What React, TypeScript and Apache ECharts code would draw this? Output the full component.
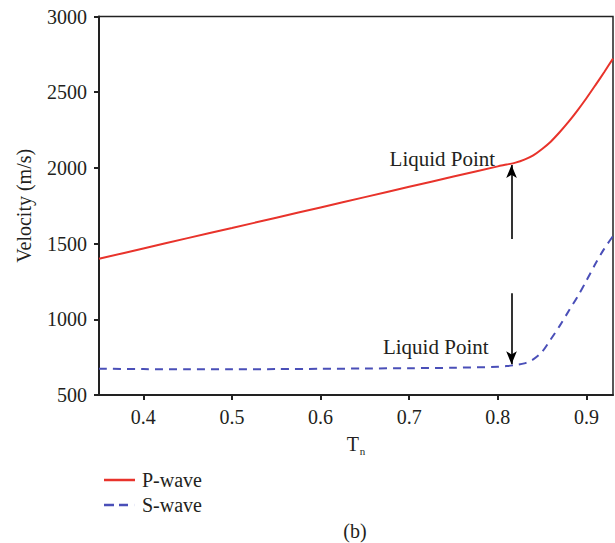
import React, { useEffect, useRef } from "react";
import * as echarts from "echarts";

const tn = [0.35, 0.4, 0.45, 0.5, 0.55, 0.6, 0.65, 0.7, 0.75, 0.8, 0.81, 0.82, 0.83, 0.84, 0.85, 0.86, 0.87, 0.88, 0.89, 0.9, 0.91, 0.92, 0.93];
const pWave = [1400, 1468, 1536, 1603, 1671, 1739, 1807, 1875, 1943, 2010, 2022, 2035, 2055, 2083, 2125, 2175, 2237, 2305, 2380, 2460, 2545, 2632, 2722];
const sWave = [674, 671, 670, 670, 671, 673, 675, 677, 680, 686, 691, 698, 709, 735, 785, 870, 958, 1055, 1150, 1255, 1365, 1465, 1550];
const xTicks = [0.4, 0.5, 0.6, 0.7, 0.8, 0.9];
const liquidX = 0.8155;
const upperArrow = [1530, 2019];
const lowerArrow = [1172, 703];
const upperLabel = [0.7375, 2059];
const lowerLabel = [0.73, 820];

const FONT = "Liberation Serif, serif";
const TXT = "#231f20";

export default function App() {
  const ref = useRef<HTMLDivElement>(null);
  useEffect(() => {
    const chart = echarts.init(ref.current!, null, { renderer: "svg" });
    chart.setOption({
      animation: false,
      textStyle: { fontFamily: FONT },
      grid: { left: 99, right: 2, top: 16.5, bottom: 148, show: true, borderColor: "#222", borderWidth: 1.5 },
      legend: {
        orient: "vertical",
        left: 99,
        top: 465,
        itemWidth: 31,
        itemHeight: 2.5,
        itemGap: 5,
        textStyle: { fontSize: 20, color: TXT, fontFamily: FONT, padding: [0, 0, 0, 2], lineHeight: 20 },
        data: [
          { name: "P-wave", icon: "path://M0,0h31v2.5h-31z" },
          { name: "S-wave", icon: "path://M0,0h10v2.5h-10z M15,0h9v2.5h-9z M30.9,0h0.1v2.5h-0.1z" },
        ],
      },
      xAxis: {
        type: "value",
        min: 0.35,
        max: 0.93,
        name: "{t|T}{n|n}",
        nameLocation: "middle",
        nameGap: 36,
        nameTextStyle: {
          rich: {
            t: { fontSize: 20, color: TXT, fontFamily: FONT },
            n: { fontSize: 11, color: TXT, fontFamily: FONT, padding: [14, 0, 0, 1] },
          },
        },
        axisLine: { show: true, lineStyle: { color: "#222", width: 2 } },
        axisTick: { show: true, length: 5, customValues: xTicks, lineStyle: { color: "#222", width: 2 } },
        axisLabel: { customValues: xTicks, fontSize: 20, color: TXT, fontFamily: FONT, margin: 12, formatter: (v: number) => v.toFixed(1) },
        splitLine: { show: false },
      },
      yAxis: {
        type: "value",
        min: 500,
        max: 3000,
        interval: 500,
        name: "Velocity (m/s)",
        nameLocation: "middle",
        nameGap: 65,
        nameTextStyle: { fontSize: 20, color: TXT, fontFamily: FONT },
        axisLine: { show: true, lineStyle: { color: "#222", width: 2 } },
        axisTick: { show: true, length: 5, lineStyle: { color: "#222", width: 2 } },
        axisLabel: { fontSize: 20, color: TXT, fontFamily: FONT, margin: 12, formatter: (v: number) => String(v) },
        splitLine: { show: false },
      },
      series: [
        {
          name: "P-wave",
          type: "line",
          symbol: "none",
          smooth: 0.3,
          data: tn.map((x, i) => [x, pWave[i]]),
          lineStyle: { color: "#e8332b", width: 2 },
          itemStyle: { color: "#e8332b" },
          markLine: {
            silent: true,
            symbol: ["none", "arrow"],
            symbolSize: [8, 13],
            label: { show: false },
            lineStyle: { color: "#000", width: 1.6, type: "solid" },
            data: [
              [{ coord: [liquidX, upperArrow[0]] }, { coord: [liquidX, upperArrow[1]] }],
              [{ coord: [liquidX, lowerArrow[0]] }, { coord: [liquidX, lowerArrow[1]] }],
            ],
          },
          markPoint: {
            silent: true,
            symbol: "circle",
            symbolSize: 0,
            label: { show: true, position: "inside", fontSize: 21, color: TXT, fontFamily: FONT, formatter: "Liquid Point" },
            data: [
              { coord: upperLabel },
              { coord: lowerLabel },
            ],
          },
        },
        {
          name: "S-wave",
          type: "line",
          symbol: "none",
          smooth: 0.3,
          data: tn.map((x, i) => [x, sWave[i]]),
          lineStyle: { color: "#4a4fb8", width: 2, type: [8, 6] },
          itemStyle: { color: "#4a4fb8" },
        },
      ],
      graphic: [
        {
          type: "text",
          x: 355,
          y: 531,
          style: { text: "(b)", fontSize: 20, fill: TXT, fontFamily: FONT, textAlign: "center", textVerticalAlign: "middle" },
        },
      ],
    });
    return () => chart.dispose();
  }, []);
  return <div ref={ref} style={{ position: "absolute", left: 0, top: 0, width: 615, height: 543 }} />;
}
